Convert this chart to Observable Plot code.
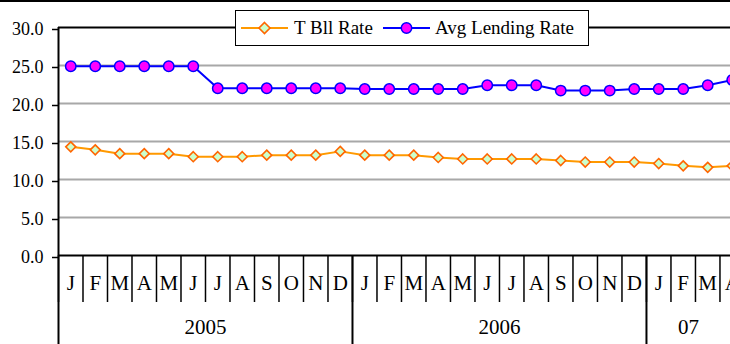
<!DOCTYPE html>
<html><head><meta charset="utf-8">
<script src="https://cdn.jsdelivr.net/npm/d3@7"></script>
<script src="https://cdn.jsdelivr.net/npm/@observablehq/plot@0.6"></script>
<style>
body{margin:0;background:#fff;}
#wrap{position:relative;width:730px;height:344px;overflow:hidden;font-family:"Liberation Serif","Tinos","Times New Roman",Times,"DejaVu Serif",serif;color:#000;}
#chart svg text{font-family:"Liberation Serif","Tinos","Times New Roman",Times,"DejaVu Serif",serif;}
#topline{position:absolute;left:0;top:0;width:730px;height:2px;background:#000;}
#legend{position:absolute;left:235px;top:10px;width:352px;height:34px;border:1.5px solid #000;background:#fff;font-size:19px;}
.lbl{position:absolute;top:5px;white-space:nowrap;line-height:24px;}
svg.sw{position:absolute;top:7px;}
</style></head><body>
<div id="wrap"><div id="chart"></div><div id="topline"></div><div id="legend"></div></div>
<script>
const years = ["2005", "2006", "07"];
const yearMonthCounts = [12, 12, 4];
const monthLabels = ["J","F","M","A","M","J","J","A","S","O","N","D",
                     "J","F","M","A","M","J","J","A","S","O","N","D",
                     "J","F","M","A"];
const seriesNames = ["T Bll Rate", "Avg Lending Rate"];
const tbill = [14.3, 13.9, 13.4, 13.4, 13.4, 13.0, 13.0, 13.0, 13.2, 13.2, 13.2, 13.7,
               13.2, 13.2, 13.2, 12.9, 12.7, 12.7, 12.7, 12.7, 12.5, 12.3, 12.3, 12.3,
               12.1, 11.8, 11.6, 11.8];
const lending = [24.9, 24.9, 24.9, 24.9, 24.9, 24.9, 22.0, 22.0, 22.0, 22.0, 22.0, 22.0,
                 21.9, 21.9, 21.9, 21.9, 21.9, 22.4, 22.4, 22.4, 21.7, 21.7, 21.7, 21.9,
                 21.9, 21.9, 22.4, 23.1];
const yTicks = [0, 5, 10, 15, 20, 25, 30];
const gridTicks = [5, 10, 15, 20, 25];

const xMax = 27.43; // visible months in the cropped frame
const rows = monthLabels.map((m, i) => ({i, m, tbill: tbill[i], lending: lending[i]}));

let acc = 0;
const yearStarts = [], yearMids = [];
yearMonthCounts.forEach(n => {
  yearStarts.push(acc);
  yearMids.push((acc + Math.min(acc + n, xMax)) / 2);
  acc += n;
});
const monthBounds = d3.range(0, monthLabels.length + 1).filter(v => v <= xMax);
const monthCenters = rows.map(r => r.i + 0.5);

const serif = "'Liberation Serif', Tinos, 'Times New Roman', Times, 'DejaVu Serif', serif";
const chart = Plot.plot({
  width: 730, height: 344,
  marginLeft: 58, marginRight: 0, marginTop: 27, marginBottom: 89,
  style: {fontFamily: serif, fontSize: "18px", color: "#000", background: "#fff"},
  x: {type: "linear", domain: [0, xMax]},
  y: {domain: [0, 30]},
  marks: [
    Plot.ruleY(gridTicks, {stroke: "#a8a8a8", strokeWidth: 2}),
    Plot.ruleY([30], {stroke: "#000", strokeWidth: 2}),
    Plot.ruleY([0], {stroke: "#000", strokeWidth: 2}),
    Plot.ruleX([0], {stroke: "#000", strokeWidth: 2}),
    Plot.axisY(yTicks, {tickFormat: d => d.toFixed(1), tickSize: 6, tickPadding: 9, fontSize: 18, label: null, strokeWidth: 1.5, dy: 2}),
    Plot.axisX(monthBounds, {tickSize: 47, tickFormat: () => "", label: null, strokeWidth: 1.5}),
    Plot.axisX(yearStarts, {tickSize: 89, tickFormat: () => "", label: null, strokeWidth: 2}),
    Plot.axisX(monthCenters, {tickSize: 0, tickPadding: 20, tickFormat: (d) => monthLabels[Math.floor(d)], fontSize: 21, label: null}),
    Plot.axisX(yearMids, {tickSize: 0, tickPadding: 64, tickFormat: (d) => years[yearMids.indexOf(d)], fontSize: 21, label: null}),
    Plot.line(rows, {x: d => d.i + 0.5, y: "tbill", stroke: "#FF9900", strokeWidth: 2}),
    Plot.dot(rows, {x: d => d.i + 0.5, y: "tbill", symbol: "diamond2", r: 4.5, fill: "#CCFFCC", stroke: "#FF6600", strokeWidth: 1.6}),
    Plot.line(rows, {x: d => d.i + 0.5, y: "lending", stroke: "#0000FF", strokeWidth: 2}),
    Plot.dot(rows, {x: d => d.i + 0.5, y: "lending", symbol: "circle", r: 5.2, fill: "#FF00FF", stroke: "#0000FF", strokeWidth: 1.5})
  ]
});
document.getElementById("chart").appendChild(chart);

const legend = document.getElementById("legend");
const swatches = [
  {name: seriesNames[0], line: "#FF9900", shape: `<path d="M23.5,4.5 L29,10 L23.5,15.5 L18,10 Z" fill="#CCFFCC" stroke="#FF6600" stroke-width="1.6"/>`, sx: 5, tx: 58},
  {name: seriesNames[1], line: "#0000FF", shape: `<circle cx="23.5" cy="10" r="5.2" fill="#FF00FF" stroke="#0000FF" stroke-width="1.5"/>`, sx: 147, tx: 199}
];
swatches.forEach(s => {
  legend.insertAdjacentHTML("beforeend",
    `<svg class="sw" width="47" height="20" style="left:${s.sx}px"><line x1="0" x2="47" y1="10" y2="10" stroke="${s.line}" stroke-width="2"/>${s.shape}</svg>` +
    `<span class="lbl" style="left:${s.tx}px">${s.name}</span>`);
});
</script>
</body></html>
